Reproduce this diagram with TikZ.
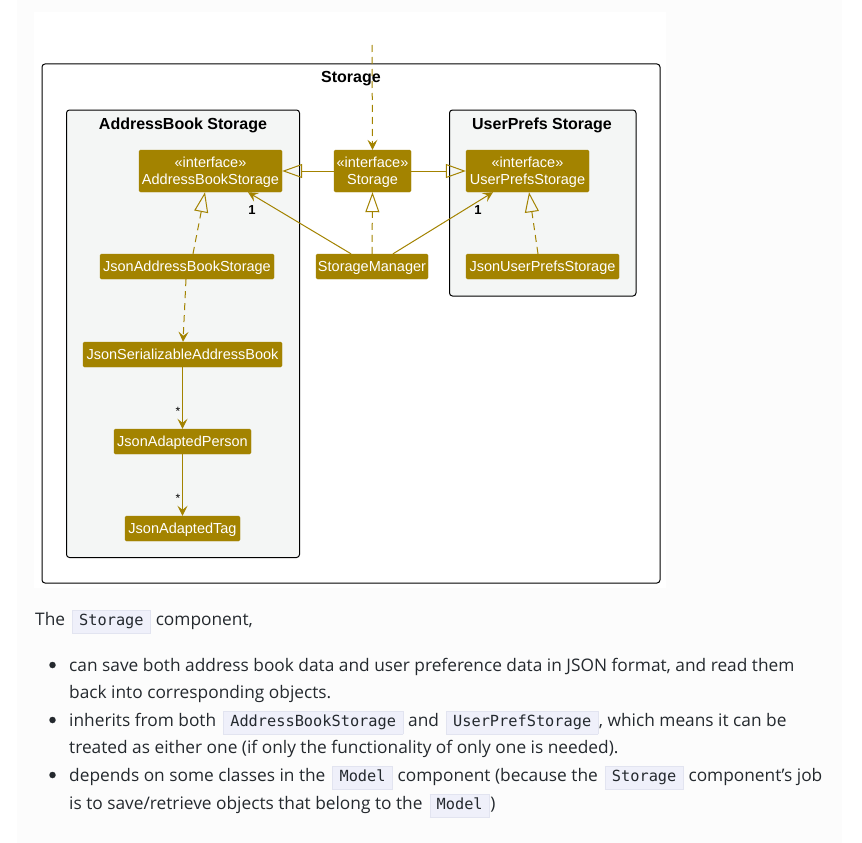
\documentclass[tikz,border=0pt]{standalone}
\usepackage{fontspec}
\setmainfont{Liberation Sans}
\newfontfamily\bodyfont{Open Sans}
\newfontfamily\codefont{DejaVu Sans Mono}
\usetikzlibrary{arrows.meta}
\definecolor{stor}{HTML}{A38300}
\definecolor{pkgbg}{HTML}{F4F6F5}
\definecolor{pagebg}{HTML}{FCFCFC}
\definecolor{bodytxt}{HTML}{24292E}
\definecolor{codebg}{HTML}{EFF0FA}
\definecolor{codeborder}{HTML}{E2E4F0}
\newcommand{\cde}[1]{\kern2.5pt\relax{\setlength{\fboxsep}{3pt}\setlength{\fboxrule}{0.6pt}\fcolorbox{codeborder}{codebg}{\kern3.5pt\relax\codefont\fontsize{15.3}{17}\selectfont\strut #1\kern3.5pt\relax}}\kern0.5pt\relax}
\tikzset{
  cls/.style={rectangle, fill=stor, draw=stor, text=white, rounded corners=1.5pt, inner sep=0pt,
    align=center, text depth=0pt, font=\fontsize{14.5}{17}\selectfont},
  pkg/.style={draw=black, line width=1pt, fill=pkgbg, rounded corners=3pt},
  pkgtitle/.style={font=\bfseries\fontsize{16}{18}\selectfont, inner sep=0pt, anchor=base},
  conn/.style={draw=stor, line width=1pt},
  dep/.style={conn, dash pattern=on 7pt off 5pt, -{Stealth[length=10pt,width=10pt,inset=4pt]}},
  assoc/.style={conn, -{Stealth[length=10pt,width=10pt,inset=4pt]}},
  gen/.style={conn, -{Triangle[open,length=20pt,width=14pt]}},
  real/.style={conn, dash pattern=on 7pt off 5pt, -{Triangle[open,length=20pt,width=14pt]}},
  mult/.style={font=\bfseries\fontsize{13}{14}\selectfont, inner sep=0pt},
  star/.style={font=\fontsize{12}{13}\selectfont, inner sep=0pt},
  bodyline/.style={anchor=base west, inner sep=0pt, text=bodytxt, font=\bodyfont\fontsize{17.3}{20}\selectfont},
  bullet/.style={circle, fill=bodytxt, inner sep=0pt, minimum size=6.5pt},
}
\begin{document}
\begin{tikzpicture}[x=1pt, y=-1pt]
\useasboundingbox (0,0) rectangle (862,843);
\fill[white] (0,0) rectangle (862,843);
\fill[pagebg] (17,0) rectangle (842,843);
\fill[white] (34,12) rectangle (666,588);

% outer Storage box
\draw[line width=1pt, rounded corners=3pt] (42,64) rectangle (660,583);
\node[pkgtitle] (tStorage) at (351,82) {Storage};

% packages
\draw[pkg] (66.5,110) rectangle (299.5,557.5);
\node[pkgtitle] (tAB) at (183,129) {AddressBook Storage};
\draw[pkg] (449.5,110) rectangle (636,296);
\node[pkgtitle] (tUP) at (542,129) {UserPrefs Storage};

% classes
\node[cls, minimum width=143pt, minimum height=42pt] (AB) at (210.5,171) {«interface»\\AddressBookStorage};
\node[cls, minimum width=77pt, minimum height=42pt] (ST) at (372.5,171) {«interface»\\Storage};
\node[cls, minimum width=123pt, minimum height=42pt] (UP) at (527.5,171) {«interface»\\UserPrefsStorage};
\node[cls, minimum width=174pt, minimum height=25pt] (JAB) at (187,266.5) {JsonAddressBookStorage};
\node[cls, minimum width=112pt, minimum height=25pt] (SM) at (372,266.5) {StorageManager};
\node[cls, minimum width=153pt, minimum height=25pt] (JUP) at (542.5,266.5) {JsonUserPrefsStorage};
\node[cls, minimum width=199pt, minimum height=25pt] (JSAB) at (182.5,354.5) {JsonSerializableAddressBook};
\node[cls, minimum width=137pt, minimum height=25pt] (JAP) at (182.5,441.5) {JsonAdaptedPerson};
\node[cls, minimum width=115pt, minimum height=25pt] (JAT) at (182.5,528.5) {JsonAdaptedTag};

% connectors
\coordinate (ext) at (372,45);
\draw[dep] (ext) -- (ST.north);
\draw[gen] (ST.west) -- (AB.east);
\draw[gen] (ST.east) -- (UP.west);
\draw[real] (SM.north) -- (ST.south);
\draw[assoc] ([xshift=-21pt]SM.north) -- ([xshift=37.5pt]AB.south);
\draw[assoc] ([xshift=21pt]SM.north) -- ([xshift=-34.5pt]UP.south);
\node[mult] (m1) at (252,210) {1};
\node[mult] (m2) at (478,210) {1};
\draw[real] ([xshift=6pt]JAB.north) -- ([xshift=-5.5pt]AB.south);
\draw[real] ([xshift=-4.5pt]JUP.north) -- ([xshift=1.5pt]UP.south);
\draw[dep] ([xshift=-1pt]JAB.south) -- ([xshift=0.5pt]JSAB.north);
\draw[assoc] (JSAB.south) -- (JAP.north);
\draw[assoc] (JAP.south) -- (JAT.north);
\node[star] (s1) at (178,411) {*};
\node[star] (s2) at (178,498) {*};

% text below
\node[bodyline] (l0) at (35,625) {The \cde{Storage} component,};
\node[bullet] (b1) at (52.5,665) {};
\node[bullet] (b2) at (52.5,720) {};
\node[bullet] (b3) at (52.5,775) {};
\node[bullet, draw=none, fill=none] (b0) at (52.5,692) {};
\node[bodyline] (l1) at (69,671) {can save both address book data and user preference data in JSON format, and read them};
\node[bodyline] (l2) at (69,698) {back into corresponding objects.};
\node[bodyline] (l3) at (69,726) {inherits from both \cde{AddressBookStorage} and \cde{UserPrefStorage}, which means it can be};
\node[bodyline] (l4) at (69,753) {treated as either one (if only the functionality of only one is needed).};
\node[bodyline] (l5) at (69,781) {depends on some classes in the \cde{Model} component (because the \cde{Storage} component’s job};
\node[bodyline] (l6) at (69,809) {is to save/retrieve objects that belong to the \cde{Model})};
\end{tikzpicture}
\end{document}
